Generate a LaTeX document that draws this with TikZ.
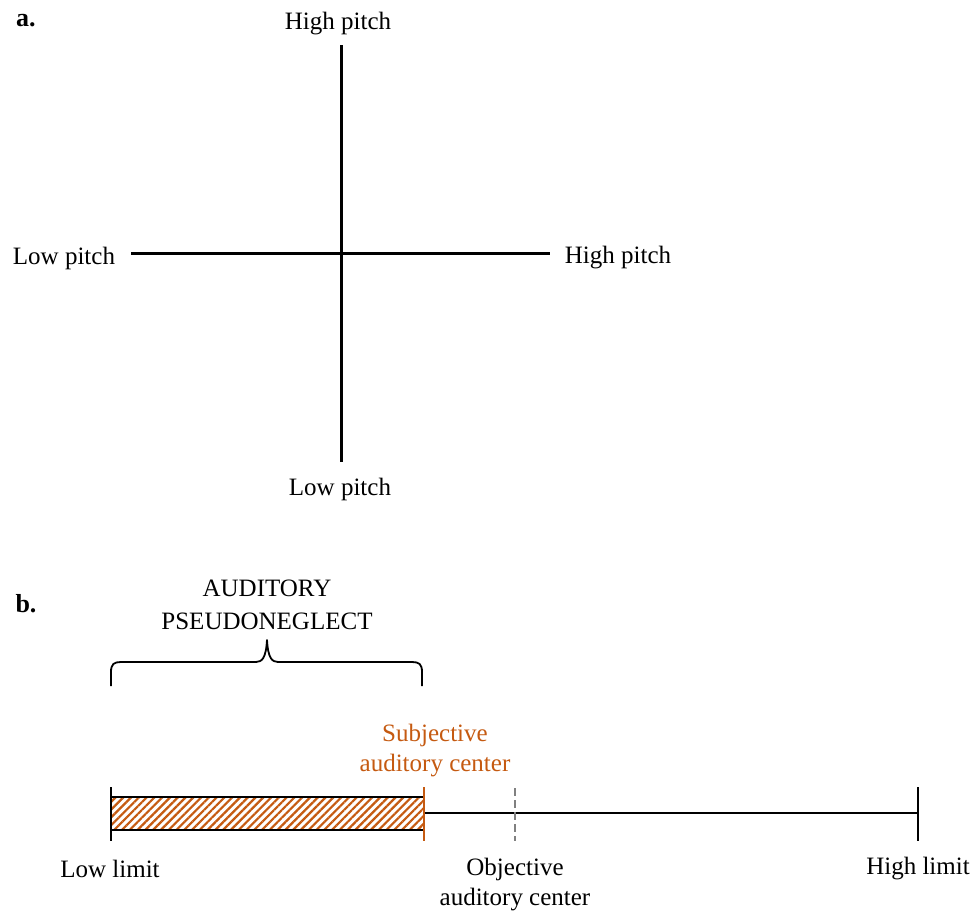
\documentclass[tikz,border=0pt]{standalone}
\usepackage{fontspec}
\setmainfont{Liberation Serif}
\usetikzlibrary{patterns.meta}
\definecolor{orng}{RGB}{197,90,17}
\definecolor{dgrey}{RGB}{128,128,128}
\begin{document}
\begin{tikzpicture}[x=1pt,y=-1pt,
  lbl/.style={font=\fontsize{25}{30}\selectfont, inner sep=0pt},
  panel/.style={font=\fontsize{26}{30}\selectfont\bfseries, inner sep=0pt},
  axis/.style={line width=3pt},
  tick/.style={line width=2.6pt}]
\useasboundingbox (0,0) rectangle (975,913);
% panel a
\node[panel] (pa) at (26,21) {a.};
\coordinate (vt) at (341,45);
\coordinate (vb) at (341,462);
\coordinate (hl) at (131,253);
\coordinate (hr) at (550,253);
\draw[axis] (vt) -- (vb);
\draw[axis] (hl) -- (hr);
\node[lbl] (ht) at (338,24) {High pitch};
\node[lbl] (lb) at (340,489) {Low pitch};
\node[lbl] (ll) at (64,258) {Low pitch};
\node[lbl] (hrr) at (618,258) {High pitch};
% panel b
\node[panel] (pb) at (26,604) {b.};
\node[lbl, align=center] (ap) at (267,605) {AUDITORY\\[3pt]PSEUDONEGLECT};
\coordinate (bl) at (111,686);
\coordinate (br) at (422,686);
\coordinate (bt) at (267,640);
\draw[line width=1.8pt, line join=round]
  (bl) -- (111,672) .. controls (111,664) and (114,662) .. (121,662)
  -- (256,662) .. controls (262,662) and (266,658) .. (bt)
  .. controls (268,658) and (272,662) .. (278,662)
  -- (412,662) .. controls (419,662) and (422,664) .. (422,672) -- (br);
% bar
\coordinate (h1) at (111,797);
\coordinate (h2) at (424,830);
\fill[pattern={Lines[angle=45,distance=5.5pt,line width=2.2pt]}, pattern color=orng] (h1) rectangle (h2);
\draw[line width=2pt] (111,797) -- (424,797) (111,830) -- (424,830);
\coordinate (m1) at (424,813);
\coordinate (m2) at (918,813);
\draw[line width=2.6pt] (m1) -- (m2);
\draw[tick] (111,787) -- (111,841);
\draw[tick] (918,787) -- (918,841);
\draw[line width=2.4pt, dgrey, dash pattern=on 8pt off 4pt] (515,788) -- (515,841);
\draw[line width=2.6pt, orng] (424,787) -- (424,841);
\node[lbl, orng, align=center] (sc) at (435,751) {Subjective\\[0pt]auditory center};
\node[lbl] (lo) at (110,869) {Low limit};
\node[lbl, align=center] (oc) at (515,885) {Objective\\[0pt]auditory center};
\node[lbl] (hi) at (918,869) {High limit};
\end{tikzpicture}
\end{document}
